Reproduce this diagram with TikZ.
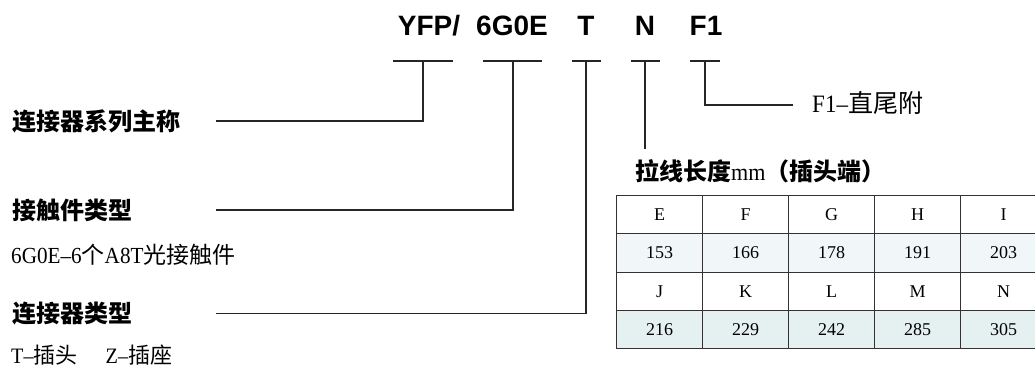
\documentclass[tikz,border=0pt]{standalone}
\usepackage{fontspec}
\setmainfont{Liberation Serif}
\newfontfamily\cjk{Noto Sans CJK SC}
\newfontfamily\codefont{Liberation Sans}
\newfontfamily\narrow{Liberation Serif}[FakeStretch=0.92]
\definecolor{rowlight}{RGB}{241,247,249}
\definecolor{rowdark}{RGB}{229,240,241}
\begin{document}
\begin{tikzpicture}[x=1pt,y=-1pt,
    code/.style={font=\codefont\bfseries\fontsize{28}{28}\selectfont, inner sep=0pt},
    title/.style={font=\cjk\bfseries\fontsize{24}{24}\selectfont, anchor=west, inner sep=0pt},
    note/.style={font=\fontsize{23}{23}\selectfont, anchor=west, inner sep=0pt},
    link/.style={line width=1.5pt, black!85},
    cell/.style={draw=black!80, line width=1.2pt, anchor=north west, inner sep=0pt,
        minimum width=86pt, minimum height=38.25pt, font=\fontsize{18}{18}\selectfont}]
    \useasboundingbox (0,0) rectangle (1035,369);
    \clip (0,0) rectangle (1035,369);
    % code letters on top
    \node[code] (yfp) at (429,26) {YFP/};
    \node[code] (contact) at (512,26) {6G0E};
    \node[code] (kind) at (586,26) {T};
    \node[code] (length) at (645,26) {N};
    \node[code] (tail) at (706,26) {F1};
    % brackets under the letters
    \coordinate (kyfp) at (423,61);
    \coordinate (kcontact) at (513,61);
    \coordinate (kkind) at (586,61);
    \coordinate (klength) at (645,61);
    \coordinate (ktail) at (705,61);
    \draw[link] (393,61) -- (453,61);
    \draw[link] (483,61) -- (542,61);
    \draw[link] (572,61) -- (601,61);
    \draw[link] (631,61) -- (660,61);
    \draw[link] (690,61) -- (720,61);
    % descriptions
    \node[title] (series) at (12,121) {连接器系列主称};
    \node[title] (touch) at (12,210) {接触件类型};
    \node[note] (touchnote) at (11,255) {{\narrow 6G0E–6}{\cjk 个}{\narrow A8T}{\cjk 光接触件}};
    \node[title] (plug) at (12,313.5) {连接器类型};
    \node[note, font=\fontsize{22}{22}\selectfont] (plugnote) at (11,355) {{\narrow T–}{\cjk 插头}\hspace{28pt}{\narrow Z–}{\cjk 插座}};
    \node[note, font=\fontsize{25}{25}\selectfont] (tailnote) at (812,103) {{\narrow F1–}{\cjk 直尾附}};
    \node[title] (pull) at (635,171) {拉线长度{\narrow\mdseries mm}（插头端）};
    \coordinate (ls) at (216,0);
    \draw[link] (kyfp) |- (series.east -| ls);
    \draw[link] (kcontact) |- (touch.east -| ls);
    \draw[link] (kkind) |- (plug.east -| ls);
    \draw[link] (ktail) |- ([xshift=-19pt,yshift=-2pt]tailnote.west);
    \draw[link] (klength) -- ([yshift=10pt]pull.north -| klength);
    % table of lengths
    \foreach \top/\topval/\low/\lowval [count=\i from 0] in
        {E/153/J/216, F/166/K/229, G/178/L/242, H/191/M/285, I/203/N/305} {
        \node[cell] (e\i) at (616+86*\i,195) {\top};
        \node[cell, fill=rowlight] (v\i) at (616+86*\i,233.25) {\topval};
        \node[cell] (f\i) at (616+86*\i,271.5) {\low};
        \node[cell, fill=rowdark] (w\i) at (616+86*\i,309.75) {\lowval};
    }
\end{tikzpicture}
\end{document}
